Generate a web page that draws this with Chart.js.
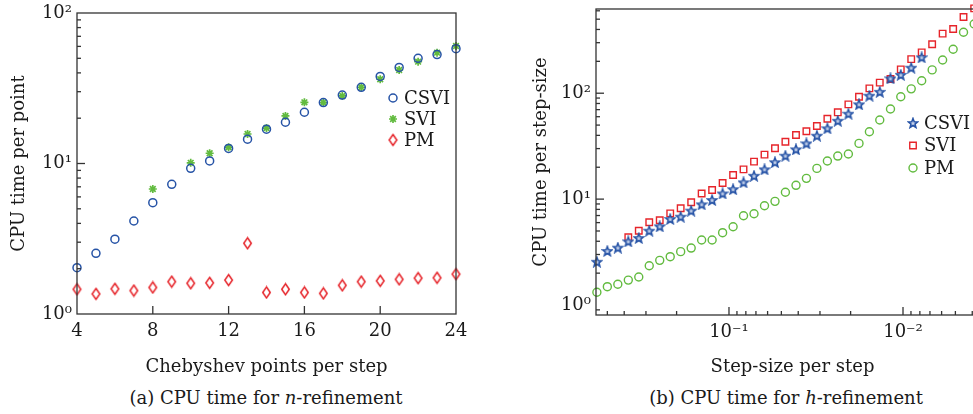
<!DOCTYPE html>
<html>
<head>
<meta charset="utf-8">
<script src="https://cdn.jsdelivr.net/npm/chart.js@4.4.1/dist/chart.umd.min.js"></script>
<style>
  html, body { margin: 0; padding: 0; background: #fff; overflow: hidden; }
  #wrap { position: relative; width: 973px; height: 414px; overflow: hidden; }
  canvas { position: absolute; top: 0; }
  #graficoN { left: 0; }
  #graficoH { left: 520px; }
  .legenda { position: absolute; font-family: "DejaVu Serif", serif; font-size: 18px; color: #1a1a1a;
             white-space: nowrap; transform: translateX(-50%); line-height: 20px; }
</style>
</head>
<body>
<div id="wrap">
  <canvas id="graficoN" width="470" height="383"></canvas>
  <canvas id="graficoH" width="480" height="383"></canvas>
  <div class="legenda" style="left:266px; top:388px">(a) CPU time for <i>n</i>-refinement</div>
  <div class="legenda" style="left:786px; top:388px">(b) CPU time for <i>h</i>-refinement</div>
</div>
<script>
// (a) n-refinement
const pontos = [4, 5, 6, 7, 8, 9, 10, 11, 12, 13, 14, 15, 16, 17, 18, 19, 20, 21, 22, 23, 24];
const csviN = [2.03, 2.53, 3.14, 4.15, 5.49, 7.27, 9.29, 10.4, 12.6, 14.5, 16.9, 18.8, 21.9, 25.4, 28.5, 32.1, 37.9, 43.5, 50.0, 52.9, 57.9];
const sviN  = [null, null, null, null, 6.77, null, 10.1, 11.7, 12.8, 15.7, 17.2, 20.7, 25.5, 25.4, 28.1, 32.1, 36.3, 41.8, 47.5, 54.5, 60.4];
const pmN   = [1.46, 1.36, 1.47, 1.43, 1.50, 1.64, 1.60, 1.61, 1.68, 2.95, 1.39, 1.46, 1.39, 1.37, 1.55, 1.64, 1.66, 1.70, 1.73, 1.74, 1.84];

// (b) h-refinement
const passos = [0.5743, 0.5, 0.4353, 0.3789, 0.3299, 0.2872, 0.25, 0.2176, 0.1895, 0.1649, 0.1436, 0.125,
                0.1088, 0.0947, 0.0825, 0.0718, 0.0625, 0.0544, 0.0474, 0.0412, 0.0359, 0.03125, 0.0272,
                0.0237, 0.0206, 0.0179, 0.0156, 0.0136, 0.0118, 0.0103, 0.00897, 0.00781, 0.0068,
                0.00592, 0.00515, 0.00449, 0.0039];
const csviH = [2.56, 3.24, 3.48, 3.99, 4.29, 5.03, 5.53, 6.49, 6.82, 7.78, 8.93, 9.80, 11.3, 12.4, 14.4, 16.6,
               19.1, 22.3, 25.7, 29.5, 33.6, 39.7, 46.6, 54.9, 64.0, 78.5, 94.7, 103, 138, 149, 174, 218];
const sviH  = [null, null, null, 4.36, 5.03, 6.04, 6.31, 7.34, 8.19, 9.33, 11.3, 12.2, 14.2, 16.9, 19.1, 22.6,
               26.3, 30.2, 34.8, 40.3, 43.7, 49.0, 57.4, 66.0, 78.5, 92.7, 111, 126, 136, 168, 210, 243,
               290, 365, 404, 525, 632];
const pmH   = [1.32, 1.49, 1.57, 1.72, 1.84, 2.35, 2.64, 2.86, 3.19, 3.45, 4.11, 4.11, 4.82, 5.49, 6.97, 7.28,
               8.66, 9.53, 11.6, 13.5, 15.7, 19.5, 22.9, 25.5, 26.7, 33.6, 43.3, 55.8, 71.0, 92.7, 110, 131,
               166, 206, 260, 376, 450];

const AZUL = '#2653a6';
const VERDE = '#62bb3f';
const VERMELHO = '#e6242a';
const TEXTO = '#1a1a1a';
const FONTE = '"DejaVu Serif", serif';

function serie(xs, ys) {
  const out = [];
  ys.forEach((y, i) => { if (y !== null) out.push({ x: xs[i], y: y }); });
  return out;
}

const SUP = { '-': '\u207B', '0': '\u2070', '1': '\u00B9', '2': '\u00B2', '3': '\u00B3' };
function potencia(v) {
  const e = Math.round(Math.log10(v));
  return '10' + String(e).split('').map(c => SUP[c]).join('');
}

// marcadores desenhados a mao
function losango(cor) {
  const c = document.createElement('canvas');
  c.width = 11; c.height = 14;
  const g = c.getContext('2d');
  g.strokeStyle = cor; g.lineWidth = 1.5;
  g.beginPath();
  g.moveTo(5.5, 1.5); g.lineTo(9.3, 7); g.lineTo(5.5, 12.5); g.lineTo(1.7, 7);
  g.closePath(); g.stroke();
  return c;
}
function estrela(cor, fundo) {
  const c = document.createElement('canvas');
  c.width = 12; c.height = 12;
  const g = c.getContext('2d');
  g.beginPath();
  for (let k = 0; k < 10; k++) {
    const r = k % 2 === 0 ? 5 : 2.1;
    const a = -Math.PI / 2 + k * Math.PI / 5;
    const px = 6 + r * Math.cos(a), py = 6.4 + r * Math.sin(a);
    if (k === 0) g.moveTo(px, py); else g.lineTo(px, py);
  }
  g.closePath();
  g.fillStyle = fundo; g.fill();
  g.strokeStyle = cor; g.lineWidth = 1.5; g.stroke();
  return c;
}

function menores(min, max) {
  const v = [];
  for (let e = -4; e <= 3; e++) {
    for (let m = 2; m <= 9; m++) {
      const t = m * Math.pow(10, e);
      if (t > min && t < max) v.push(t);
    }
  }
  return v;
}

// moldura + riscos para dentro
const moldura = {
  id: 'moldura',
  afterDatasetsDraw(chart, args, opts) {
    const { ctx, chartArea: a, scales } = chart;
    ctx.save();
    ctx.strokeStyle = '#333';
    ctx.lineWidth = 1.3;
    ctx.strokeRect(a.left, a.top, a.right - a.left, a.bottom - a.top);
    const risco = (x1, y1, x2, y2) => { ctx.beginPath(); ctx.moveTo(x1, y1); ctx.lineTo(x2, y2); ctx.stroke(); };
    opts.xMaior.forEach(v => { const p = scales.x.getPixelForValue(v); risco(p, a.bottom, p, a.bottom - 8); });
    opts.xMenor.forEach(v => { const p = scales.x.getPixelForValue(v); risco(p, a.bottom, p, a.bottom - 4); });
    opts.yMaior.forEach(v => { const p = scales.y.getPixelForValue(v); risco(a.left, p, a.left + 8, p); });
    opts.yMenor.forEach(v => { const p = scales.y.getPixelForValue(v); risco(a.left, p, a.left + 4, p); });
    ctx.restore();
  }
};

// legenda dentro do grafico
const legendaInterna = {
  id: 'legendaInterna',
  afterDraw(chart, args, opts) {
    const ctx = chart.ctx;
    ctx.save();
    ctx.font = '18px ' + FONTE;
    ctx.textBaseline = 'middle';
    ctx.textAlign = 'left';
    chart.data.datasets.forEach((ds, i) => {
      const y = opts.y + i * opts.passo;
      ctx.strokeStyle = ds.borderColor;
      ctx.fillStyle = 'rgba(0,0,0,0)';
      ctx.lineWidth = ds.borderWidth;
      Chart.helpers.drawPoint(ctx, { pointStyle: ds.pointStyle, radius: ds.pointRadius, borderWidth: ds.borderWidth, rotation: 0 }, opts.x, y);
      ctx.fillStyle = TEXTO;
      ctx.fillText(ds.label, opts.x + 11, y + 1);
    });
    ctx.restore();
  }
};

function eixoLog(min, max, titulo, tituloPad, largura, reverso) {
  return {
    type: 'logarithmic', min: min, max: max, reverse: !!reverso,
    grid: { display: false, drawTicks: false },
    border: { display: false },
    afterBuildTicks: s => { s.ticks = [1e-3, 1e-2, 1e-1, 1, 10, 100, 1000].filter(v => v >= min && v <= max).map(v => ({ value: v })); },
    ticks: { callback: v => potencia(v), color: TEXTO, font: { family: FONTE, size: 18 }, padding: 5, autoSkip: false, maxRotation: 0 },
    title: { display: true, text: titulo, color: TEXTO, font: { family: FONTE, size: 18 }, padding: tituloPad },
    afterFit: s => {
      if (s.isHorizontal()) { s.height = largura; s.paddingLeft = 0; s.paddingRight = 0; }
      else { s.width = largura; s.paddingTop = 0; s.paddingBottom = 0; }
    }
  };
}

new Chart(document.getElementById('graficoN'), {
  type: 'scatter',
  data: {
    datasets: [
      { label: 'CSVI', data: serie(pontos, csviN), pointStyle: 'circle', pointRadius: 4, borderWidth: 1.5,
        borderColor: AZUL, backgroundColor: 'rgba(0,0,0,0)', clip: false },
      { label: 'SVI', data: serie(pontos, sviN), pointStyle: 'star', pointRadius: 4, borderWidth: 1.7,
        borderColor: VERDE, backgroundColor: VERDE, clip: false },
      { label: 'PM', data: serie(pontos, pmN), pointStyle: losango(VERMELHO), pointRadius: 5, borderWidth: 1.5,
        borderColor: VERMELHO, backgroundColor: 'rgba(0,0,0,0)', clip: false }
    ]
  },
  options: {
    responsive: false, animation: false,
    layout: { padding: { top: 13, right: 14, left: 0, bottom: 0 } },
    plugins: {
      legend: { display: false }, tooltip: { enabled: false },
      moldura: { xMaior: [8, 12, 16, 20], xMenor: [], yMaior: [10], yMenor: menores(1, 100) },
      legendaInterna: { x: 393, y: 98, passo: 21 }
    },
    scales: {
      x: {
        type: 'linear', min: 4, max: 24,
        grid: { display: false, drawTicks: false },
        border: { display: false },
        ticks: { stepSize: 4, color: TEXTO, font: { family: FONTE, size: 18 }, padding: 7, maxRotation: 0 },
        title: { display: true, text: 'Chebyshev points per step', color: TEXTO, font: { family: FONTE, size: 18 }, padding: { top: 0, bottom: 5 } },
        afterFit: s => { s.height = 69; s.paddingLeft = 0; s.paddingRight = 0; }
      },
      y: eixoLog(1, 100, 'CPU time per point', { top: 9, bottom: 0 }, 77)
    }
  },
  plugins: [moldura, legendaInterna]
});

const eixoH = eixoLog(0.003205, 0.581, 'Step-size per step', { top: 0, bottom: 5 }, 68, true);
eixoH.ticks.padding = 7;

new Chart(document.getElementById('graficoH'), {
  type: 'scatter',
  data: {
    datasets: [
      { label: 'CSVI', data: serie(passos, csviH), pointStyle: estrela(AZUL, '#c3d0ea'), pointRadius: 5, borderWidth: 1.5,
        borderColor: AZUL, backgroundColor: 'rgba(0,0,0,0)', clip: false },
      { label: 'SVI', data: serie(passos, sviH), pointStyle: 'rect', pointRadius: 4.6, borderWidth: 1.4,
        borderColor: VERMELHO, backgroundColor: 'rgba(0,0,0,0)', clip: false },
      { label: 'PM', data: serie(passos, pmH), pointStyle: 'circle', pointRadius: 4, borderWidth: 1.4,
        borderColor: VERDE, backgroundColor: 'rgba(0,0,0,0)', clip: false }
    ]
  },
  options: {
    responsive: false, animation: false,
    layout: { padding: { top: 9, right: 11, left: 0, bottom: 0 } },
    plugins: {
      legend: { display: false }, tooltip: { enabled: false },
      moldura: { xMaior: [0.1, 0.01], xMenor: menores(0.003205, 0.581), yMaior: [10, 100], yMenor: menores(0.805, 624) },
      legendaInterna: { x: 393, y: 123, passo: 22.5 }
    },
    scales: {
      x: eixoH,
      y: eixoLog(0.805, 624, 'CPU time per step-size', { top: 11, bottom: 0 }, 76)
    }
  },
  plugins: [moldura, legendaInterna]
});
</script>
</body>
</html>
